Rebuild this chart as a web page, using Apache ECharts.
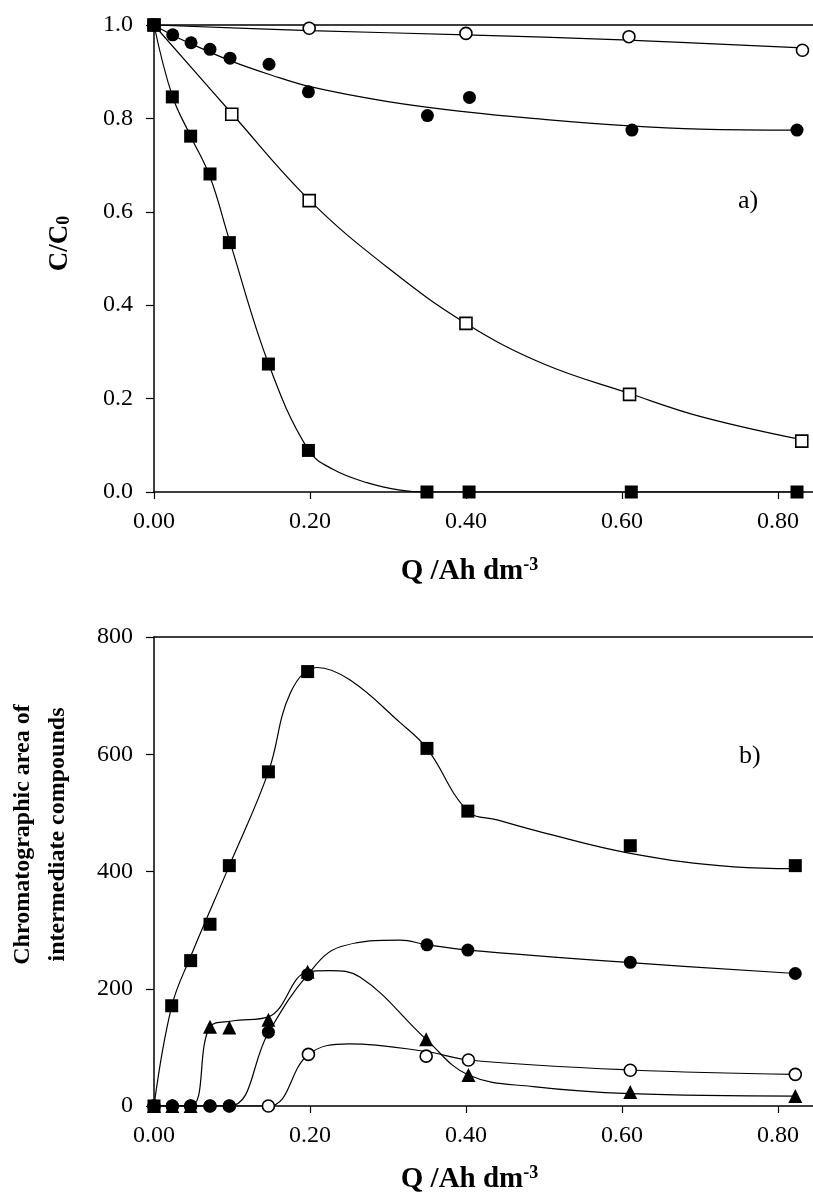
<!DOCTYPE html>
<html>
<head>
<meta charset="utf-8">
<script src="https://cdn.jsdelivr.net/npm/echarts@6/dist/echarts.min.js"></script>
<style>
html,body{margin:0;padding:0;background:#fff;}
#chart{width:813px;height:1198px;}
</style>
</head>
<body>
<div id="chart"></div>
<script>
// ---------- Panel a) : C/C0 vs Q ----------
const qA_openCircle   = [0, 0.199, 0.400, 0.609, 0.8315];
const cA_openCircle   = [1.0, 0.993, 0.982, 0.975, 0.946];
const qA_filledCircle = [0, 0.024, 0.0475, 0.0718, 0.0975, 0.1475, 0.198, 0.3506, 0.4045, 0.6128, 0.8245];
const cA_filledCircle = [1.0, 0.979, 0.962, 0.948, 0.929, 0.916, 0.857, 0.806, 0.845, 0.775, 0.775];
const qA_openSquare   = [0, 0.0997, 0.199, 0.400, 0.6098, 0.8306];
const cA_openSquare   = [1.0, 0.809, 0.624, 0.361, 0.209, 0.109];
const qA_filledSquare = [0, 0.0235, 0.047, 0.0718, 0.0966, 0.1467, 0.198, 0.35, 0.404, 0.612, 0.8245];
const cA_filledSquare = [1.0, 0.846, 0.762, 0.681, 0.534, 0.274, 0.089, 0, 0, 0, 0];

// fitted curves of panel a) (read from picture)
const fitA_openCircle_q   = [0, 0.2, 0.4, 0.6, 0.8315];
const fitA_openCircle_c   = [1.0, 0.988, 0.979, 0.968, 0.951];
const fitA_filledCircle_q = [0, 0.024, 0.05, 0.1, 0.15, 0.2, 0.3, 0.4, 0.5, 0.6, 0.7, 0.8245];
const fitA_filledCircle_c = [1.0, 0.978, 0.958, 0.922, 0.893, 0.868, 0.836, 0.814, 0.798, 0.785, 0.777, 0.775];
const fitA_openSquare_q   = [0, 0.1, 0.2, 0.3, 0.4, 0.5, 0.6098, 0.7, 0.8306];
const fitA_openSquare_c   = [1.0, 0.81, 0.624, 0.48, 0.361, 0.274, 0.211, 0.162, 0.112];
const fitA_filledSquare_q = [0, 0.0235, 0.047, 0.0718, 0.0966, 0.147, 0.198, 0.23, 0.273, 0.3156, 0.35, 0.8245];
const fitA_filledSquare_c = [1.0, 0.848, 0.762, 0.675, 0.54, 0.274, 0.09, 0.048, 0.02, 0.004, 0, 0];

// ---------- Panel b) : chromatographic area vs Q ----------
const qB_filledSquare = [0, 0.0227, 0.047, 0.0718, 0.0966, 0.1467, 0.197, 0.35, 0.4024, 0.6107, 0.8223];
const aB_filledSquare = [0, 171, 248, 310, 410, 570, 741, 610, 503, 444, 410];
const qB_filledCircle = [0, 0.0235, 0.047, 0.0718, 0.0966, 0.1467, 0.197, 0.35, 0.4024, 0.6107, 0.8223];
const aB_filledCircle = [0, 0, 0, 0, 0, 126, 224, 275, 266, 245, 226];
const qB_triangle     = [0, 0.0235, 0.047, 0.0718, 0.0966, 0.1467, 0.197, 0.349, 0.4032, 0.6107, 0.8223];
const aB_triangle     = [0, 0, 0, 135, 134, 147, 229, 114, 53, 24, 17];
const qB_openCircle   = [0, 0.0235, 0.047, 0.0718, 0.0966, 0.1467, 0.198, 0.349, 0.4032, 0.6107, 0.8223];
const aB_openCircle   = [0, 0, 0, 0, 0, 0, 88, 85, 78.5, 61, 54];

// fitted curves of panel b) (read from picture)
const fitB_filledSquare_q = [0, 0.0227, 0.047, 0.0966, 0.1467, 0.175, 0.209, 0.251, 0.3156, 0.35, 0.4024, 0.44, 0.5, 0.6107, 0.7434, 0.8223];
const fitB_filledSquare_a = [0, 170, 255, 410, 570, 705, 748, 727, 654, 610, 503, 488, 466, 431, 408, 405];
const fitB_filledCircle_q = [0, 0.0966, 0.1467, 0.197, 0.24, 0.3156, 0.35, 0.4024, 0.6107, 0.8223];
const fitB_filledCircle_a = [0, 0, 125, 224, 272, 283, 275, 266, 244.5, 226];
const fitB_triangle_q     = [0, 0.047, 0.0718, 0.1, 0.1467, 0.197, 0.225, 0.264, 0.349, 0.4032, 0.4866, 0.6107, 0.8223];
const fitB_triangle_a     = [0, 0, 135, 145, 152, 229, 231, 220, 113.7, 53, 33, 21, 17];
const fitB_openCircle_q   = [0, 0.1467, 0.198, 0.25, 0.349, 0.4032, 0.6107, 0.8223];
const fitB_openCircle_a   = [0, 0, 88, 106, 93, 78.5, 61.4, 54];

// tick labels
const xTicks = [0, 0.2, 0.4, 0.6, 0.8];

const FONT = "'Liberation Serif','Times New Roman',serif";
const zip = (a, b) => a.map((v, i) => [v, b[i]]);

const chart = echarts.init(document.getElementById('chart'), null, {renderer: 'canvas'});

function xAxisCfg(gridIndex, gap) {
  return {
    type: 'value', gridIndex, min: 0, max: 0.845, position: 'bottom',
    axisLine: {show: true, onZero: false, lineStyle: {color: '#000', width: 1.5}},
    axisTick: {show: true, length: 7, inside: false, customValues: xTicks, lineStyle: {color: '#000', width: 1.2}},
    axisLabel: {show: true, margin: 18, customValues: xTicks, formatter: v => v.toFixed(2),
      fontFamily: FONT, fontSize: 24, color: '#000'},
    splitLine: {show: false},
    name: '{t|Q /Ah dm}{s|-3}', nameLocation: 'middle', nameGap: gap,
    nameTextStyle: {padding: [0, 28, 0, 0], rich: {
      t: {fontFamily: FONT, fontSize: 29, fontWeight: 'bold', color: '#000'},
      s: {fontFamily: FONT, fontSize: 18, fontWeight: 'bold', color: '#000', padding: [0, 0, 14, 0]}
    }}
  };
}
function topFrame(gridIndex) {
  return {
    type: 'value', gridIndex, min: 0, max: 0.845, position: 'top',
    axisLine: {show: true, onZero: false, lineStyle: {color: '#000', width: 1.5}},
    axisTick: {show: false}, axisLabel: {show: false}, splitLine: {show: false}
  };
}

function fitSeries(x, y, xi, yi) {
  return {
    type: 'line', xAxisIndex: xi, yAxisIndex: yi, data: zip(x, y),
    smooth: 0.4, showSymbol: false, symbol: 'none',
    lineStyle: {color: '#000', width: 1.2}, z: 2, silent: true
  };
}
function markSeries(x, y, xi, yi, symbol, filled, size) {
  return {
    type: 'scatter', xAxisIndex: xi, yAxisIndex: yi, data: zip(x, y),
    symbol, symbolSize: size,
    itemStyle: filled ? {color: '#000', borderColor: '#000', borderWidth: 0, opacity: 1}
                      : {color: '#fff', borderColor: '#000', borderWidth: 1.6, opacity: 1},
    z: 5, silent: true
  };
}

const option = {
  backgroundColor: '#fff',
  animation: false,
  grid: [
    {left: 154, right: 0, top: 25, height: 467, containLabel: false, outerBoundsMode: 'none'},
    {left: 154, right: 0, top: 637, height: 469, containLabel: false, outerBoundsMode: 'none'}
  ],
  xAxis: [xAxisCfg(0, 64), topFrame(0), xAxisCfg(1, 58), topFrame(1)],
  yAxis: [
    {type: 'value', gridIndex: 0, min: 0, max: 1, interval: 0.2,
     axisLine: {show: true, lineStyle: {color: '#000', width: 1.5}},
     axisTick: {show: true, length: 8, lineStyle: {color: '#000', width: 1.2}},
     axisLabel: {margin: 21, formatter: v => v.toFixed(1), fontFamily: FONT, fontSize: 24, color: '#000'},
     splitLine: {show: false},
     name: '{t|C/C}{s|0}', nameLocation: 'middle', nameGap: 72, nameRotate: 90,
     nameTextStyle: {padding: [0, 0, 0, 30], rich: {
       t: {fontFamily: FONT, fontSize: 27, fontWeight: 'bold', color: '#000', padding: [0, 0, 8, 0]},
       s: {fontFamily: FONT, fontSize: 18, fontWeight: 'bold', color: '#000'}
     }}},
    {type: 'value', gridIndex: 1, min: 0, max: 800, interval: 200,
     axisLine: {show: true, lineStyle: {color: '#000', width: 1.5}},
     axisTick: {show: true, length: 8, lineStyle: {color: '#000', width: 1.2}},
     axisLabel: {margin: 21, fontFamily: FONT, fontSize: 24, color: '#000'},
     splitLine: {show: false},
     name: 'Chromatographic area of\nintermediate compounds', nameLocation: 'middle', nameGap: 79, nameRotate: 90,
     nameTextStyle: {fontFamily: FONT, fontSize: 24, fontWeight: 'bold', color: '#000', lineHeight: 35, padding: [0, 0, 0, 74]}}
  ],
  graphic: [
    {type: 'text', left: 738, top: 188, style: {text: 'a)', font: "26px 'Liberation Serif', serif", fill: '#000'}},
    {type: 'text', left: 739, top: 743, style: {text: 'b)', font: "26px 'Liberation Serif', serif", fill: '#000'}}
  ],
  series: [
    fitSeries(fitA_openCircle_q, fitA_openCircle_c, 0, 0),
    fitSeries(fitA_filledCircle_q, fitA_filledCircle_c, 0, 0),
    fitSeries(fitA_openSquare_q, fitA_openSquare_c, 0, 0),
    fitSeries(fitA_filledSquare_q, fitA_filledSquare_c, 0, 0),
    markSeries(qA_openCircle, cA_openCircle, 0, 0, 'circle', false, 12),
    markSeries(qA_filledCircle, cA_filledCircle, 0, 0, 'circle', true, 13),
    markSeries(qA_openSquare, cA_openSquare, 0, 0, 'rect', false, 12),
    markSeries(qA_filledSquare, cA_filledSquare, 0, 0, 'rect', true, 13),

    fitSeries(fitB_filledSquare_q, fitB_filledSquare_a, 2, 1),
    fitSeries(fitB_filledCircle_q, fitB_filledCircle_a, 2, 1),
    fitSeries(fitB_triangle_q, fitB_triangle_a, 2, 1),
    fitSeries(fitB_openCircle_q, fitB_openCircle_a, 2, 1),
    markSeries(qB_openCircle, aB_openCircle, 2, 1, 'circle', false, 12),
    markSeries(qB_filledCircle, aB_filledCircle, 2, 1, 'circle', true, 13),
    markSeries(qB_triangle, aB_triangle, 2, 1, 'triangle', true, 14),
    markSeries(qB_filledSquare, aB_filledSquare, 2, 1, 'rect', true, 13)
  ]
};
chart.setOption(option);
</script>
</body>
</html>
